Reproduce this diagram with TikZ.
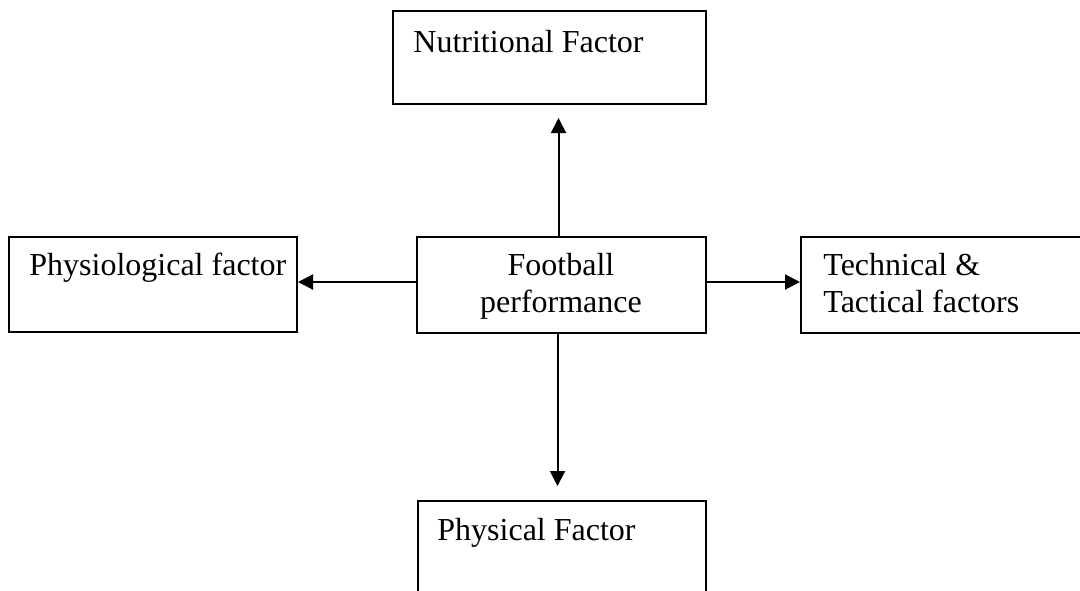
\documentclass[tikz,border=0pt]{standalone}
\usepackage{fontspec}
\setmainfont{Liberation Serif}
\usetikzlibrary{arrows.meta}

\newlength{\du}
\setlength{\du}{0.5pt}

\begin{document}
\begin{tikzpicture}[x=1\du,y=-1\du,
  factorbox/.style={draw,line width=2\du,inner sep=0pt,anchor=north west},
  factortext/.style={anchor=base west,inner sep=0pt,font=\fontsize{16}{20}\selectfont},
  centretext/.style={anchor=base,inner sep=0pt,font=\fontsize{16}{20}\selectfont},
  link/.style={line width=2\du,-{Triangle[width=7.5pt,length=7.5pt]}}]
\useasboundingbox (0,0) rectangle (1080,590);
\clip (0,0) rectangle (1080,590);
% boxes
\node[factorbox,minimum width=313\du,minimum height=93\du] (nutri) at (392,10) {};
\node[factortext] (nutritext) at (413,52) {Nutritional Factor};
\node[factorbox,minimum width=288\du,minimum height=95\du] (physio) at (8,236) {};
\node[factortext] (physiotext) at (29,275) {Physiological factor};
\node[factorbox,minimum width=289\du,minimum height=96\du] (foot) at (416,236) {};
\node[centretext] (foottext1) at (561,275) {Football};
\node[centretext] (foottext2) at (561,312) {performance};
\node[factorbox,minimum width=300\du,minimum height=96\du] (tech) at (800,236) {};
\node[factortext] (techtext1) at (823,275) {Technical \&};
\node[factortext] (techtext2) at (823,312) {Tactical factors};
\node[factorbox,minimum width=288\du,minimum height=110\du] (phys) at (417,500) {};
\node[factortext] (phystext) at (437,540) {Physical Factor};
% arrows
\draw[link,shorten >=6.5pt] ([xshift=-1.5pt]foot.north) -- ([xshift=-1.5pt]foot.north |- nutri.south);
\draw[link,shorten >=7pt] ([xshift=-2pt]foot.south) -- ([xshift=-2pt]foot.south |- phys.north);
\draw[link] ([yshift=1.5pt]foot.west) -- ([yshift=1.5pt]foot.west -| physio.east);
\draw[link] ([yshift=1.5pt]foot.east) -- ([yshift=1.5pt]foot.east -| tech.west);
\end{tikzpicture}
\end{document}
